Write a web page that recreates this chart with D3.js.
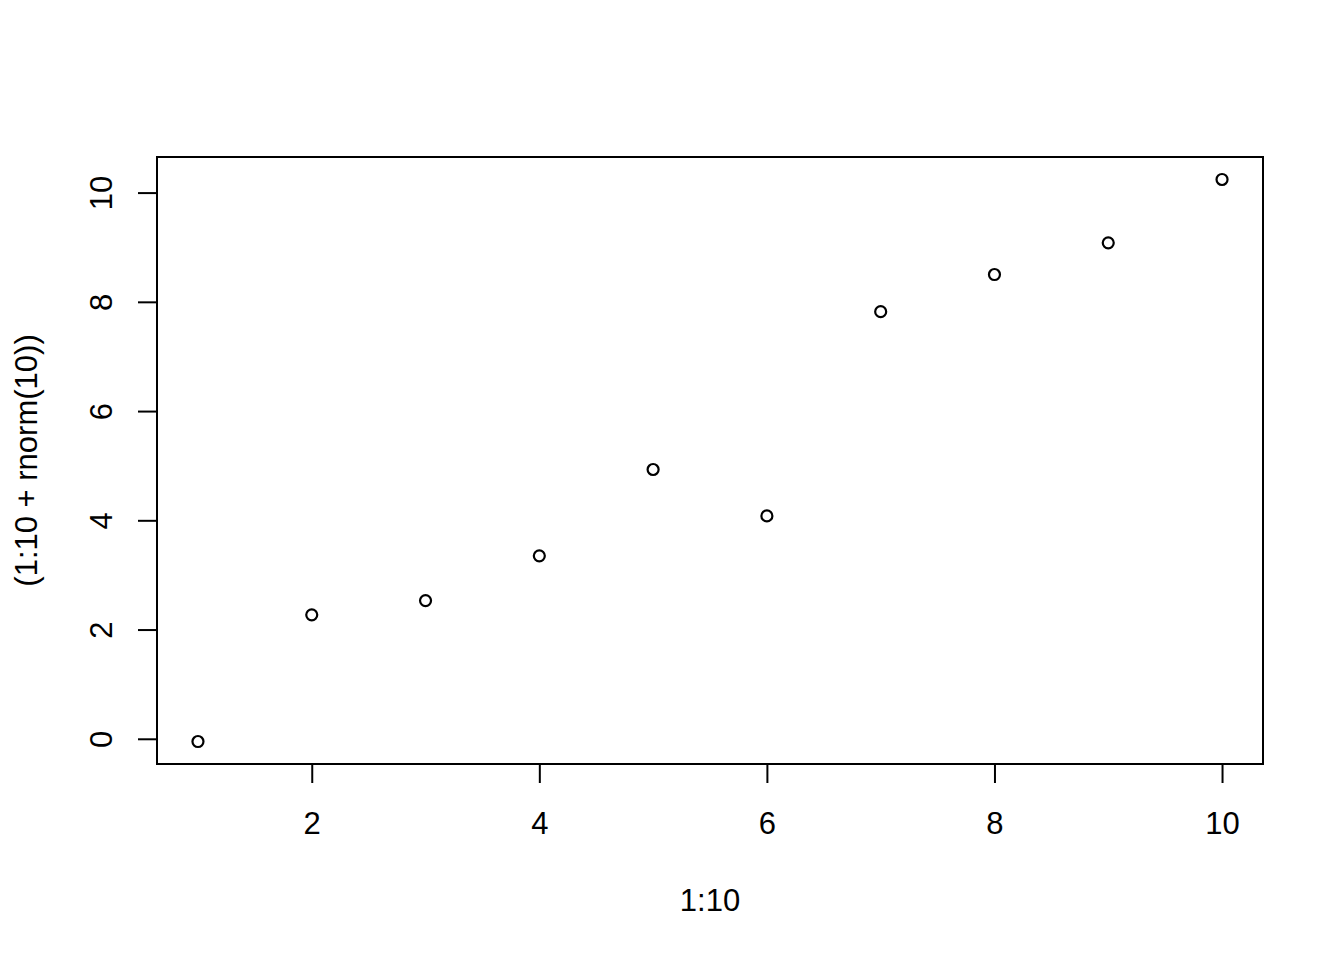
<!DOCTYPE html>
<html>
<head>
<meta charset="utf-8">
<script src="https://cdn.jsdelivr.net/npm/d3@7"></script>
<style>
  body { margin: 0; background: #fff; }
  text { font-family: 'Liberation Sans', Arial, sans-serif; fill: #000; }
</style>
</head>
<body>
<div id="chart"></div>
<script>
let xValues = [1, 2, 3, 4, 5, 6, 7, 8, 9, 10]
let yValues = [-0.05, 2.27, 2.53, 3.35, 4.93, 4.08, 7.82, 8.5, 9.08, 10.24]
let xTicks = [2, 4, 6, 8, 10]
let yTicks = [0, 2, 4, 6, 8, 10]
let xLabel = '1:10'
let yLabel = '(1:10 + rnorm(10))'

let margin = { top: 157, left: 157, right: 81, bottom: 196 }
let width = 1344 - margin.left - margin.right
let height = 960 - margin.top - margin.bottom

let svg = d3
  .select('#chart')
  .append('svg')
  .attr('width', 1344)
  .attr('height', 960)
  .append('g')
  .attr('transform', 'translate(' + margin.left + ',' + margin.top + ')')

// R style: 4% padding on each side of the data range
function padded(ext) {
  let pad = (ext[1] - ext[0]) * 0.04
  return [ext[0] - pad, ext[1] + pad]
}

let xPositionScale = d3.scaleLinear().domain(padded(d3.extent(xValues))).range([0, width])
let yPositionScale = d3.scaleLinear().domain(padded(d3.extent(yValues))).range([height, 0])

let xAxis = d3.axisBottom(xPositionScale).tickValues(xTicks).tickSize(19).tickPadding(29).tickFormat(d3.format('d'))
let yAxis = d3.axisLeft(yPositionScale).tickValues(yTicks).tickSize(19).tickPadding(0).tickFormat(d3.format('d'))

let gx = svg.append('g')
  .attr('class', 'axis x-axis')
  .attr('transform', 'translate(0,' + height + ')')
  .call(xAxis)
gx.select('.domain').remove()
gx.selectAll('line').attr('stroke', '#000').attr('stroke-width', 2)
gx.selectAll('text').attr('font-size', 31).attr('fill', '#000')

let gy = svg.append('g')
  .attr('class', 'axis y-axis')
  .call(yAxis)
gy.select('.domain').remove()
gy.selectAll('line').attr('stroke', '#000').attr('stroke-width', 2)
gy.selectAll('text')
  .attr('font-size', 31)
  .attr('fill', '#000')
  .attr('x', null)
  .attr('dy', null)
  .attr('text-anchor', 'middle')
  .attr('transform', 'translate(-45,0) rotate(-90)')

svg.append('rect')
  .attr('x', 0)
  .attr('y', 0)
  .attr('width', width)
  .attr('height', height)
  .attr('fill', 'none')
  .attr('stroke', '#000')
  .attr('stroke-width', 2)

svg.selectAll('.pt')
  .data(xValues)
  .enter()
  .append('circle')
  .attr('class', 'pt')
  .attr('cx', d => xPositionScale(d))
  .attr('cy', (d, i) => yPositionScale(yValues[i]))
  .attr('r', 5.5)
  .attr('fill', 'none')
  .attr('stroke', '#000')
  .attr('stroke-width', 2.2)

svg.append('text')
  .attr('x', width / 2)
  .attr('y', height + 147)
  .attr('text-anchor', 'middle')
  .attr('font-size', 31)
  .text(xLabel)

svg.append('text')
  .attr('transform', 'translate(-120,' + height / 2 + ') rotate(-90)')
  .attr('text-anchor', 'middle')
  .attr('font-size', 31)
  .text(yLabel)
</script>
</body>
</html>
